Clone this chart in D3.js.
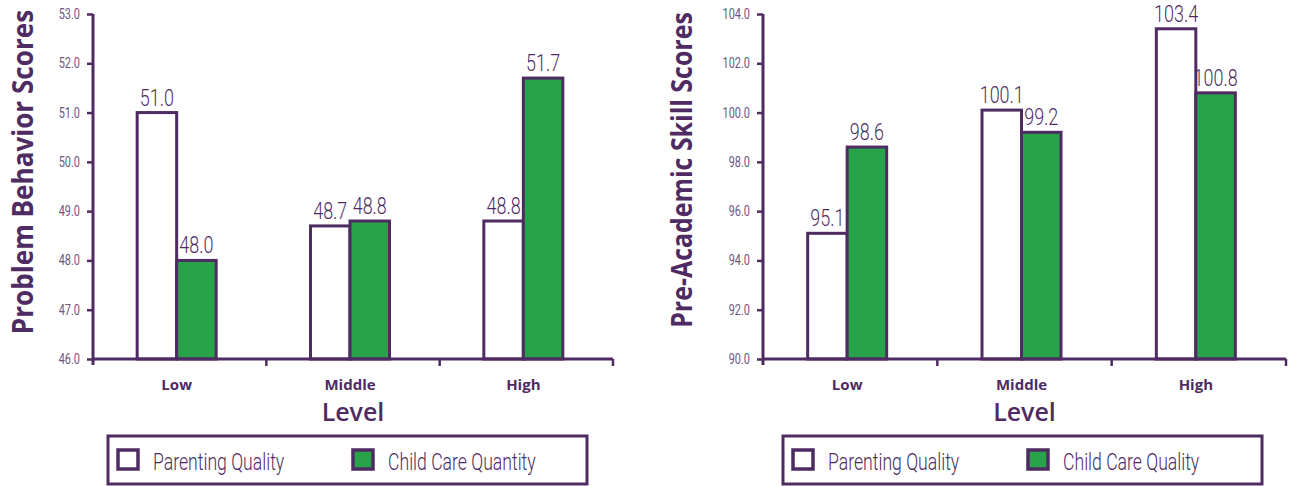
<!DOCTYPE html>
<html>
<head>
<meta charset="utf-8">
<script src="https://cdn.jsdelivr.net/npm/d3@7"></script>
<style>
  html, body { margin: 0; padding: 0; background: #fff; }
  svg { display: block; }
</style>
</head>
<body>
<svg id="chart" width="1293" height="486"></svg>
<script>
// ---- data ----
const levels = ["Low", "Middle", "High"];
const seriesNames = ["Parenting Quality", "Child Care Quantity"];
const seriesNamesRight = ["Parenting Quality", "Child Care Quality"];
const behaviorParenting = [51.0, 48.7, 48.8];
const behaviorChildCare = [48.0, 48.8, 51.7];
const skillParenting = [95.1, 100.1, 103.4];
const skillChildCare = [98.6, 99.2, 100.8];
const behaviorTicks = [46, 47, 48, 49, 50, 51, 52, 53];
const skillTicks = [90, 92, 94, 96, 98, 100, 102, 104];
const xTitle = "Level";
const yTitleLeft = "Problem Behavior Scores";
const yTitleRight = "Pre-Academic Skill Scores";

const PURPLE = "#4e2b62";
const TICKCOL = "#6e5582";
const GREEN = "#29a349";
const LIGHT = "Roboto, 'Open Sans', sans-serif";
const BOLD = "'Open Sans', 'Liberation Sans', sans-serif";

const svg = d3.select("#chart");

function condText(parent, x, y, size, anchor, txt, sx) {
  return parent.append("text")
    .attr("transform", `translate(${x},${y}) scale(${sx},1)`)
    .attr("text-anchor", anchor)
    .attr("font-family", LIGHT).attr("font-weight", 300)
    .attr("font-size", size).attr("fill", PURPLE)
    .text(txt);
}

function drawPanel(cfg) {
  const g = svg.append("g");
  const y = d3.scaleLinear().domain(cfg.domain).range([359, 14]);
  const x = d3.scaleBand().domain(levels).range([cfg.x0, cfg.x1]).padding(0);
  const barW = 39.5;
  const data = levels.map((l, i) => ({ level: l, vals: [cfg.a[i], cfg.b[i]] }));

  // bars
  data.forEach(d => {
    const cx = x(d.level) + x.bandwidth() / 2 - 3;
    d.vals.forEach((v, k) => {
      const bx = cx - barW + k * barW;
      g.append("rect")
        .attr("x", bx).attr("y", y(v))
        .attr("width", barW).attr("height", y(cfg.domain[0]) - y(v))
        .attr("fill", k === 0 ? "#fff" : GREEN)
        .attr("stroke", PURPLE).attr("stroke-width", 3);
      condText(g, bx + barW / 2, y(v) - 7, 23, "middle", v.toFixed(1), 0.78);
    });
  });

  // y axis
  const yAxis = d3.axisLeft(y).tickValues(cfg.ticks).tickSize(6).tickPadding(0)
    .tickFormat(d3.format(".1f"));
  const ya = g.append("g").attr("transform", `translate(${cfg.x0},0)`).call(yAxis);
  ya.select(".domain").attr("stroke", PURPLE).attr("stroke-width", 3)
    .attr("d", `M0,${y.range()[1]}V${y.range()[0] + 6}`);
  ya.selectAll(".tick line").attr("stroke", PURPLE).attr("stroke-width", 2.5);
  ya.selectAll(".tick text")
    .attr("x", null).attr("dy", "0.32em")
    .attr("transform", `translate(-13,0) scale(0.78,1)`)
    .attr("fill", TICKCOL).attr("font-family", LIGHT).attr("font-weight", 400)
    .attr("font-size", 14);

  // x axis
  const xAxis = d3.axisBottom(x).tickSize(0).tickPadding(20);
  const xa = g.append("g").attr("transform", `translate(0,359)`).call(xAxis);
  xa.select(".domain").attr("stroke", PURPLE).attr("stroke-width", 3)
    .attr("d", `M${cfg.x0},0H${cfg.x1}`);
  xa.selectAll(".tick text").attr("fill", PURPLE).attr("font-family", BOLD)
    .attr("font-weight", 700).attr("font-size", 15)
    .attr("dx", -3);
  // separator ticks at band boundaries
  const bounds = levels.slice(1).map(l => x(l)).concat([cfg.x1]);
  g.selectAll(".sep").data(bounds).enter().append("line")
    .attr("x1", d => d).attr("x2", d => d).attr("y1", 359).attr("y2", 366)
    .attr("stroke", PURPLE).attr("stroke-width", 2.5);

  // axis titles
  g.append("text")
    .attr("x", (cfg.x0 + cfg.x1) / 2).attr("y", 421)
    .attr("text-anchor", "middle").attr("font-family", BOLD).attr("font-weight", 600)
    .attr("font-size", 25).attr("fill", PURPLE).text(xTitle);
  g.append("text")
    .attr("transform", `translate(${cfg.yTitleX},${cfg.yTitleY}) rotate(-90) scale(${cfg.yTitleS},1)`)
    .attr("text-anchor", "middle").attr("font-family", BOLD).attr("font-weight", 700)
    .attr("font-size", 29).attr("fill", PURPLE).text(cfg.yTitle);

  // legend
  const lg = g.append("g");
  lg.append("rect").attr("x", cfg.legX).attr("y", 436).attr("width", 479).attr("height", 48)
    .attr("fill", "#fff").attr("stroke", PURPLE).attr("stroke-width", 3);
  cfg.names.forEach((n, k) => {
    const sx = cfg.legX + 10 + k * 235;
    lg.append("rect").attr("x", sx).attr("y", 450).attr("width", 20).attr("height", 19)
      .attr("fill", k === 0 ? "#fff" : GREEN).attr("stroke", PURPLE).attr("stroke-width", 3.5);
    condText(lg, sx + 35, 470, 24.5, "start", n, 0.72);
  });
}

drawPanel({ domain: [46, 53], ticks: behaviorTicks, x0: 93, x1: 613,
  a: behaviorParenting, b: behaviorChildCare, yTitle: yTitleLeft, yTitleX: 33, yTitleY: 172,
  yTitleS: 0.9, legX: 108, names: seriesNames });
drawPanel({ domain: [90, 104], ticks: skillTicks, x0: 763, x1: 1286,
  a: skillParenting, b: skillChildCare, yTitle: yTitleRight, yTitleX: 692, yTitleY: 170,
  yTitleS: 0.86, legX: 783, names: seriesNamesRight });
</script>
</body>
</html>
